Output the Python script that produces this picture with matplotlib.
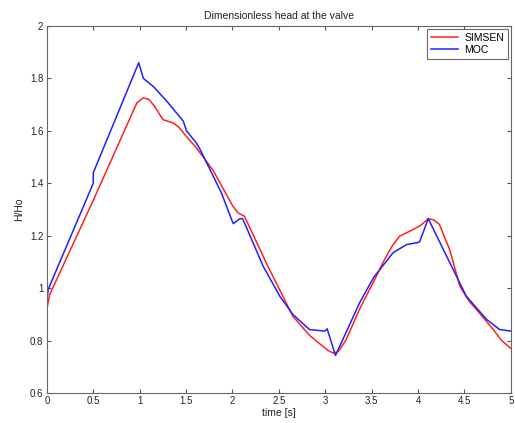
import matplotlib
matplotlib.use("Agg")
import matplotlib.pyplot as plt

# SIMSEN (red)
t_simsen = [0.0, 0.03, 0.5, 0.97, 1.04, 1.1, 1.16, 1.25, 1.36, 1.42, 1.5, 1.6, 1.79, 2.0, 2.06, 2.13,
            2.38, 2.5, 2.65, 2.83, 2.95, 3.03, 3.085, 3.14, 3.22, 3.37, 3.55, 3.62, 3.72, 3.8, 3.95, 4.03, 4.11, 4.17,
            4.23, 4.34, 4.45, 4.55, 4.63, 4.72, 4.81, 4.9, 4.95, 5.0]
y_simsen = [0.92, 0.975, 1.335, 1.707, 1.726, 1.72, 1.694, 1.643, 1.63, 1.615, 1.58, 1.54, 1.45, 1.315, 1.287, 1.274,
            1.084, 1.0, 0.893, 0.82, 0.785, 0.762, 0.752, 0.758, 0.80, 0.92, 1.045, 1.097, 1.16, 1.198, 1.224, 1.24, 1.265, 1.26,
            1.243, 1.147, 1.007, 0.95, 0.918, 0.88, 0.842, 0.80, 0.785, 0.77]

# MOC (blue)
t_moc = [0.0, 0.014, 0.5, 0.5, 0.99, 1.04, 1.145, 1.3, 1.47, 1.505, 1.61, 1.65, 1.88, 1.99, 2.01, 2.08, 2.11,
         2.33, 2.51, 2.65, 2.83, 2.995, 3.02, 3.11, 3.37, 3.52, 3.73, 3.876, 4.01, 4.02, 4.11, 4.31, 4.52,
         4.74, 4.88, 5.0]
y_moc = [0.95, 0.995, 1.40, 1.44, 1.86, 1.80, 1.77, 1.71, 1.637, 1.60, 1.554, 1.53, 1.364, 1.262, 1.246, 1.265, 1.265,
         1.084, 0.969, 0.90, 0.842, 0.836, 0.845, 0.743, 0.944, 1.04, 1.135, 1.166, 1.175, 1.18, 1.265, 1.12, 0.969,
         0.88, 0.842, 0.836]

x_ticks = [0, 0.5, 1, 1.5, 2, 2.5, 3, 3.5, 4, 4.5, 5]
x_ticklabels = ["0", "0.5", "1", "1.5", "2", "2.5", "3", "3.5", "4", "4.5", "5"]
y_ticks = [0.6, 0.8, 1.0, 1.2, 1.4, 1.6, 1.8, 2.0]
y_ticklabels = ["0.6", "0.8", "1", "1.2", "1.4", "1.6", "1.8", "2"]

plt.rcParams['font.family'] = ['Liberation Sans', 'DejaVu Sans']

fig = plt.figure(figsize=(5.15, 4.23), dpi=100)
ax = fig.add_axes([0.091, 0.071, 0.901, 0.8675])

ax.plot(t_simsen, y_simsen, color='#ff2020', lw=1.1, label='SIMSEN')
ax.plot(t_moc, y_moc, color='#2020ff', lw=1.1, label='MOC')

ax.set_xlim(0, 5)
ax.set_ylim(0.6, 2.0)
ax.set_xticks(x_ticks)
ax.set_xticklabels(x_ticklabels)
ax.set_yticks(y_ticks)
ax.set_yticklabels(y_ticklabels)
ax.tick_params(direction='in', top=True, right=True, labelsize=7, length=3,
               color='#555555', labelcolor='#222222', pad=2.5)
for s in ax.spines.values():
    s.set_color('#666666')
    s.set_linewidth(0.8)

ax.set_title('Dimensionless head at the valve', fontsize=7.5, color='#222222', pad=5)
ax.set_xlabel('time [s]', fontsize=7.5, color='#222222', labelpad=1)
ax.set_ylabel('H/Ho', fontsize=7.5, color='#222222', labelpad=4)

leg = ax.legend(loc='upper right', fontsize=7.5, frameon=True, fancybox=False,
                borderaxespad=0.3, handlelength=2.6, borderpad=0.35, labelspacing=0.2,
                handletextpad=0.6)
leg.get_frame().set_edgecolor('#444444')
leg.get_frame().set_linewidth(0.8)

fig.savefig('out.png', dpi=100)
